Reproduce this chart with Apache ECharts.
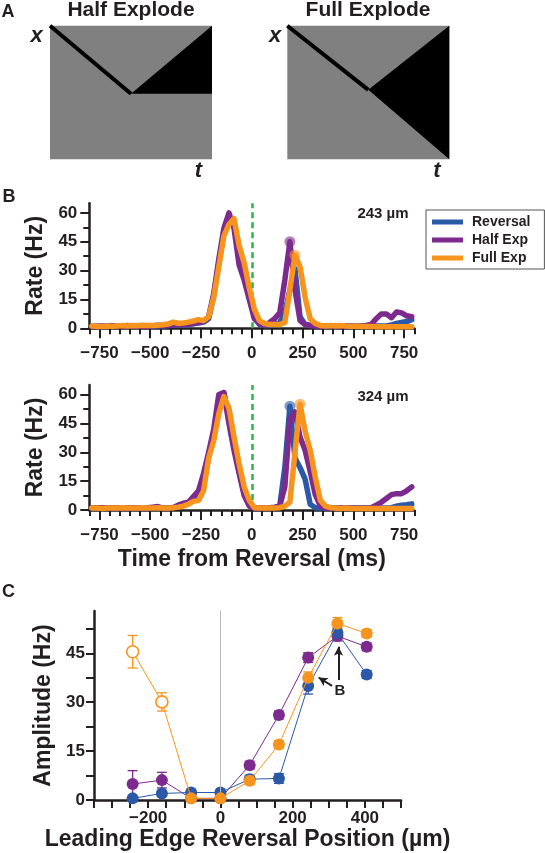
<!DOCTYPE html>
<html><head><meta charset="utf-8">
<script src="https://cdn.jsdelivr.net/npm/echarts@6/dist/echarts.min.js"></script>
<style>html,body{margin:0;padding:0;background:#fff}#c{width:545px;height:853px}</style>
</head><body><div id="c"></div>
<script>
// ---------- DATA ----------
// Panel A schematics (normalised t, x coordinates, x measured upward)
const halfExplodePath = [[0,1],[0.5,0.49]];
const halfExplodeWedge = [[0.5,0.49],[1,1],[1,0.49]];
const fullExplodePath = [[0,1],[0.5,0.52]];
const fullExplodeWedge = [[0.5,0.52],[1,1],[1,0]];

// Panel B: PSTH bin centres (ms)
const binCenters = [-787.5,-762.5,-737.5,-712.5,-687.5,-662.5,-637.5,-612.5,-587.5,-562.5,-537.5,-512.5,-487.5,-462.5,-437.5,-412.5,
 -387.5,-362.5,-337.5,-312.5,-287.5,-262.5,-237.5,-212.5,-187.5,-162.5,-137.5,-112.5,-87.5,-62.5,-37.5,-12.5,
 12.5,37.5,62.5,87.5,112.5,137.5,162.5,187.5,212.5,237.5,262.5,287.5,312.5,337.5,362.5,387.5,
 412.5,437.5,462.5,487.5,512.5,537.5,562.5,587.5,612.5,637.5,662.5,687.5,712.5,737.5,762.5,787.5];

// 243 µm
const rev243 = [1.0,1.1,1.0,1.2,1.0,1.1,1.0,1.2,1.0,1.1,1.0,1.2,1.1,1.3,1.2,1.4,
 1.6,1.8,1.7,2.0,2.3,2.8,3.2,5,17,34,50,56,54,38,28,17,
 6,2,1.5,1.5,2,3,8,20,31,6,2,1.5,1.3,1.2,1.2,1.2,
 1.2,1.2,1.2,1.2,1.2,1.2,1.2,1.2,1.2,1.2,1.2,1.8,2.5,3,3.5,4.5];
const half243 = [1.0,1.0,1.2,1.0,1.3,1.0,1.2,1.4,1.2,1.0,1.2,1.0,1.3,1.6,1.3,1.5,
 1.8,2.0,1.8,2.2,2.5,3.0,3.5,6,18,36,52,60,52,33,25,15,
 5,2.5,1.5,3,5,8,25,45,20,4,2,1.5,1.2,1.2,1.0,1.2,
 1.2,1.0,1.2,1.0,1.2,1.0,1.5,2,5,7.5,7.5,5.5,8.5,8,6.5,6];
const full243 = [1.2,1.0,1.0,1.2,1.0,1.2,1.4,1.2,1.5,1.3,1.6,1.4,1.5,1.6,1.8,2.2,
 3.2,2.6,2.8,3.2,3.8,4.5,4.0,6,16,32,48,54,57,43,34,21,
 10,4,2.5,2,2,2,3,20,38,32,16,5,2.5,1.5,1.2,1.5,
 1.2,1.5,1.2,1.0,1.2,1.0,1.0,1.0,0.8,0.8,0.8,0.8,0.8,0.8,0.8,0.8];
const peaks243Half = [[187.5,45]];
const peaks243Full = [[212.5,38]];

// 324 µm
const rev324 = [1.0,1.0,1.0,1.0,1.0,1.0,1.0,1.0,1.0,1.0,1.0,1.0,1.2,1.2,1.0,1.0,
 1.2,2,3,3.5,5.5,7,14,28,40,55,61,48,33,20,9,3,
 1,1,1,1,1.2,2,22,54,27,22,16,3,1.2,1,1,1,
 1,1,1,1,1,1,1,1,1,1,1,1.2,2,2.5,2.8,3.2];
const half324 = [1.2,1.0,1.2,1.0,1.0,0.8,1.0,1.0,1.2,1.0,1.0,1.2,1.5,1.8,1.0,1.0,
 1.2,2.5,3.5,4,7,10,19,30,42,60,61,45,31,19,7.5,2,
 1,0.8,1.0,1.2,1.5,2,12,47,51,38,31,20,8,2,1,1,
 1,1,1,1,1,1,1,1.2,2.5,4,6,8,8.5,8.5,10,12];
const full324 = [1.0,1.0,0.8,1.0,1.0,1.0,1.2,1.0,1.0,1.0,1.2,1.0,1.0,1.2,1.0,1.0,
 1.2,1.5,2,3,4.5,5,10,27,36,50,59,53,38,24,12,5,
 1.2,1,1,1,1,1.2,2,4,30,55,41,31,17,5,2,1.2,
 1.0,0.8,1.0,0.8,0.8,0.8,0.8,0.8,0.8,0.8,0.8,0.8,0.8,0.8,0.8,0.8];
const peaks324Rev = [[187.5,54]];
const peaks324Full = [[237.5,55]];

const bXTicks = [-800,-750,-700,-650,-600,-550,-500,-450,-400,-350,-300,-250,-200,-150,-100,-50,0,50,100,150,200,250,300,350,400,450,500,550,600,650,700,750,800];
const bXLabels = [-750,-500,-250,0,250,500,750];
const bYTicks = [0,7.5,15,22.5,30,37.5,45,52.5,60];
const bYLabels = [0,15,30,45,60];

// Panel C
const cPositions = [-243,-162,-81,0,81,162,243,324,405];
const revAmp  = [0.5,2.0,2.3,2.3,6.4,6.6,35.0,51.3,38.5];
const halfAmp = [4.9,6.1,0.5,0.5,10.7,26.1,43.7,50.3,47.0];
const fullAmp = [45.5,30.1,0.5,0.5,5.9,17.0,37.5,54.2,51.1];
const revErr  = [0.5,0.8,0.5,0.5,1.2,1.5,2.5,1.5,1.2];
const halfErr = [4.1,2.4,0.5,0.5,1.2,1.2,1.5,1.5,1.2];
const fullErr = [5.0,2.8,0.5,0.5,1.2,1.2,1.8,1.8,1.2];
const fullOpenIdx = [0,1];
const cYTicks = [0,7.5,15,22.5,30,37.5,45,52.5];
const cYLabels = [0,15,30,45];
const cXLabels = [-200,0,200,400];

// ---------- STYLE ----------
const FONT = "'Liberation Sans', Arial, Helvetica, sans-serif";
const INK = '#231f20';
const BLUE = '#2b59a8', PURPLE = '#7d2a8e', ORANGE = '#f7941e', GREEN = '#2bb34b';
const fmtMinus = v => (v < 0 ? '\u2212' + Math.abs(v) : String(v));
const lbl = (size) => ({color: INK, fontFamily: FONT, fontWeight: 'bold', fontSize: size});

const chart = echarts.init(document.getElementById('c'), null, {renderer: 'canvas'});

// ---------- AXES ----------
const hiddenAx = (gi) => ({type:'value', gridIndex:gi, min:0, max:1, show:false});
function bXAxes(gi, withName){
  return [
    {type:'value', gridIndex:gi, position:'bottom', min:-800, max:800, splitLine:{show:false},
     axisLine:{show:true, onZero:false, lineStyle:{color:INK, width:2.5}},
     axisTick:{show:true, length:6, customValues:bXTicks, lineStyle:{color:INK, width:2}},
     axisLabel:{show:false}},
    {type:'value', gridIndex:gi, position:'bottom', min:-800, max:800, splitLine:{show:false},
     axisLine:{show:false, onZero:false},
     axisTick:{show:true, length:10, customValues:bXLabels, lineStyle:{color:INK, width:2}},
     axisLabel:Object.assign({show:true, customValues:bXLabels, formatter:fmtMinus, margin:17}, lbl(17)),
     name: withName ? 'Time from Reversal (ms)' : '', nameLocation:'middle', nameGap:38,
     nameTextStyle: lbl(23)}
  ];
}
function bYAxes(gi){
  return [
    {type:'value', gridIndex:gi, min:0, max:65, position:'left', splitLine:{show:false},
     axisLine:{show:true, onZero:false, lineStyle:{color:INK, width:2.5}},
     axisTick:{show:true, length:6, customValues:bYTicks, lineStyle:{color:INK, width:2}},
     axisLabel:{show:false}},
    {type:'value', gridIndex:gi, min:0, max:65, position:'left', splitLine:{show:false},
     axisLine:{show:false, onZero:false},
     axisTick:{show:true, length:9, customValues:bYLabels, lineStyle:{color:INK, width:2}},
     axisLabel:Object.assign({show:true, customValues:bYLabels, margin:12}, lbl(17)),
     name:'Rate (Hz)', nameLocation:'middle', nameGap:36, nameTextStyle: lbl(23)}
  ];
}

const xAxis = [hiddenAx(0), hiddenAx(1)].concat(bXAxes(2,false), bXAxes(3,true), [
  {type:'value', gridIndex:4, position:'bottom', min:-350, max:500, interval:50, splitLine:{show:false},
   axisLine:{show:true, onZero:false, lineStyle:{color:INK, width:2.5}},
   axisTick:{show:true, length:8, lineStyle:{color:INK, width:2}},
   axisLabel:Object.assign({show:true, customValues:cXLabels, formatter:fmtMinus, margin:10}, lbl(17)),
   name:'Leading Edge Reversal Position (\u00b5m)', nameLocation:'middle', nameGap:27, nameTextStyle: lbl(23)}
]);
const yAxis = [hiddenAx(0), hiddenAx(1)].concat(bYAxes(2), bYAxes(3), [
  {type:'value', gridIndex:4, min:0, max:58, position:'left', splitLine:{show:false},
   axisLine:{show:true, onZero:false, lineStyle:{color:INK, width:2.5}},
   axisTick:{show:true, length:8, customValues:cYTicks, lineStyle:{color:INK, width:2}},
   axisLabel:Object.assign({show:true, customValues:cYLabels, margin:9}, lbl(17)),
   name:'Amplitude (Hz)', nameLocation:'middle', nameGap:38, nameTextStyle: lbl(23)}
]);

// ---------- SERIES ----------
function polySeries(gi, pts){
  return {type:'custom', xAxisIndex:gi, yAxisIndex:gi, silent:true, data:[[0,0]], z:3,
    renderItem:(p, api) => ({type:'polygon', shape:{points: pts.map(q => api.coord(q))}, style:{fill:'#000'}})};
}
function pathSeries(gi, pts){
  return {type:'custom', xAxisIndex:gi, yAxisIndex:gi, silent:true, data:[[0,0]], z:4,
    renderItem:(p, api) => ({type:'polyline', shape:{points: pts.map(q => api.coord(q))}, style:{stroke:'#000', lineWidth:4, fill:null}})};
}
const pairs = (arr) => binCenters.map((t, i) => [t, arr[i]]);
function psth(name, arr, color, xi, yi, z){
  return {type:'line', name, data:pairs(arr), xAxisIndex:xi, yAxisIndex:yi, showSymbol:false, symbol:'none',
    z, lineStyle:{color, width:5.5, join:'round', cap:'round'}, itemStyle:{color}, animation:false};
}
function peakDots(name, pts, color, xi, yi){
  return {type:'scatter', name, data:pts, xAxisIndex:xi, yAxisIndex:yi, symbolSize:11, z:8,
    itemStyle:{color, opacity:0.6}, silent:true};
}
const greenMark = {silent:true, symbol:'none', label:{show:false}, animation:false,
  lineStyle:{color:GREEN, type:[6,4], width:2.5}, data:[{xAxis:0}]};

function ampLine(name, amp, color, z, openIdx){
  return {type:'line', name, xAxisIndex:6, yAxisIndex:6, z,
    data: cPositions.map((x, i) => (openIdx && openIdx.includes(i))
      ? {value:[x, amp[i]], itemStyle:{color:'#fff', borderColor:color, borderWidth:1.6}}
      : [x, amp[i]]),
    symbol:'circle', symbolSize:12, showSymbol:true,
    lineStyle:{color, width:1}, itemStyle:{color, borderWidth:0}, animation:false};
}
function errBars(amp, err, color, z){
  return {type:'custom', xAxisIndex:6, yAxisIndex:6, z, silent:true,
    data: cPositions.map((x, i) => [x, Math.max(0, amp[i] - err[i]), amp[i] + err[i]]),
    renderItem:(p, api) => {
      const a = api.coord([api.value(0), api.value(1)]);
      const b = api.coord([api.value(0), api.value(2)]);
      const st = {stroke: color, lineWidth: 1.3};
      return {type:'group', children:[
        {type:'line', shape:{x1:a[0], y1:a[1], x2:b[0], y2:b[1]}, style:st},
        {type:'line', shape:{x1:a[0]-5, y1:a[1], x2:a[0]+5, y2:a[1]}, style:st},
        {type:'line', shape:{x1:b[0]-5, y1:b[1], x2:b[0]+5, y2:b[1]}, style:st}
      ]};
    }};
}

const topSeries = [psth('Reversal', rev243, BLUE, 2, 2, 5), psth('Half Exp', half243, PURPLE, 2, 2, 6),
  Object.assign(psth('Full Exp', full243, ORANGE, 2, 2, 7), {markLine: greenMark}),
  peakDots('pk1', peaks243Half, PURPLE, 2, 2), peakDots('pk2', peaks243Full, ORANGE, 2, 2)];
const botSeries = [psth('Reversal', rev324, BLUE, 4, 4, 5), psth('Half Exp', half324, PURPLE, 4, 4, 6),
  Object.assign(psth('Full Exp', full324, ORANGE, 4, 4, 7), {markLine: greenMark}),
  peakDots('pk3', peaks324Rev, BLUE, 4, 4), peakDots('pk4', peaks324Full, ORANGE, 4, 4)];

const cSeries = [
  errBars(halfAmp, halfErr, PURPLE, 2), errBars(revAmp, revErr, BLUE, 2), errBars(fullAmp, fullErr, ORANGE, 2),
  Object.assign(ampLine('Half Exp', halfAmp, PURPLE, 3), {markLine:{silent:true, symbol:'none', label:{show:false}, animation:false,
    lineStyle:{color:'#b8b8b8', type:'solid', width:1}, data:[{xAxis:0}]}}),
  ampLine('Reversal', revAmp, BLUE, 4),
  Object.assign(ampLine('Full Exp', fullAmp, ORANGE, 5, fullOpenIdx), {markLine:{silent:true, animation:false,
    symbol:['none','arrow'], symbolSize:[7,9], label:{show:false},
    lineStyle:{color:INK, type:'solid', width:2},
    data:[[{coord:[327,36.8]},{coord:[327,47]}], [{coord:[309,35]},{coord:[272,37.6]}]]}})
];

const series = [
  polySeries(0, halfExplodeWedge), pathSeries(0, halfExplodePath),
  polySeries(1, fullExplodeWedge), pathSeries(1, fullExplodePath)
].concat(topSeries, botSeries, cSeries);

const txt = (text, x, y, size, opts) => ({type:'text', x, y, silent:true, z:100,
  style:Object.assign({text, fill:INK, font:'bold ' + size + 'px ' + FONT, textAlign:'center', textVerticalAlign:'middle'}, opts || {})});

chart.setOption({
  animation:false,
  backgroundColor:'#fff',
  grid:[
    {left:50, top:25.7, width:162, height:133.6, show:true, backgroundColor:'#808080', borderWidth:0},
    {left:287.3, top:25.7, width:162, height:133.6, show:true, backgroundColor:'#808080', borderWidth:0},
    {left:89.3, top:203.3, width:325, height:125},
    {left:89.3, top:385, width:325, height:125},
    {left:94, top:611, width:307, height:189}
  ],
  xAxis, yAxis, series,
  legend:{data:['Reversal','Half Exp','Full Exp'], orient:'vertical', left:426, top:210,
    padding:[4,14,3,6], itemWidth:31, itemHeight:5, itemGap:2, icon:'rect', selectedMode:false,
    borderColor:'#555', borderWidth:1, backgroundColor:'#fff',
    textStyle:{color:INK, fontFamily:FONT, fontWeight:'bold', fontSize:14, lineHeight:16, padding:[0,0,0,4]}},
  graphic:[
    txt('A', 8, 12.5, 18), txt('B', 9, 197, 18), txt('C', 8.5, 592, 18),
    txt('Half Explode', 131, 10.5, 21), txt('Full Explode', 368, 10.5, 21),
    {type:'text', x:36.5, y:35.5, silent:true, style:{text:'x', fill:INK, font:'italic bold 22px ' + FONT, textAlign:'center', textVerticalAlign:'middle'}},
    {type:'text', x:198.5, y:170.5, silent:true, style:{text:'t', fill:INK, font:'italic bold 22px ' + FONT, textAlign:'center', textVerticalAlign:'middle'}},
    {type:'text', x:275, y:35.5, silent:true, style:{text:'x', fill:INK, font:'italic bold 22px ' + FONT, textAlign:'center', textVerticalAlign:'middle'}},
    {type:'text', x:437, y:170.5, silent:true, style:{text:'t', fill:INK, font:'italic bold 22px ' + FONT, textAlign:'center', textVerticalAlign:'middle'}},
    txt('243 \u00b5m', 383, 214, 15), txt('324 \u00b5m', 383, 397, 15),
    txt('B', 340, 690.5, 15)
  ]
});
</script></body></html>
